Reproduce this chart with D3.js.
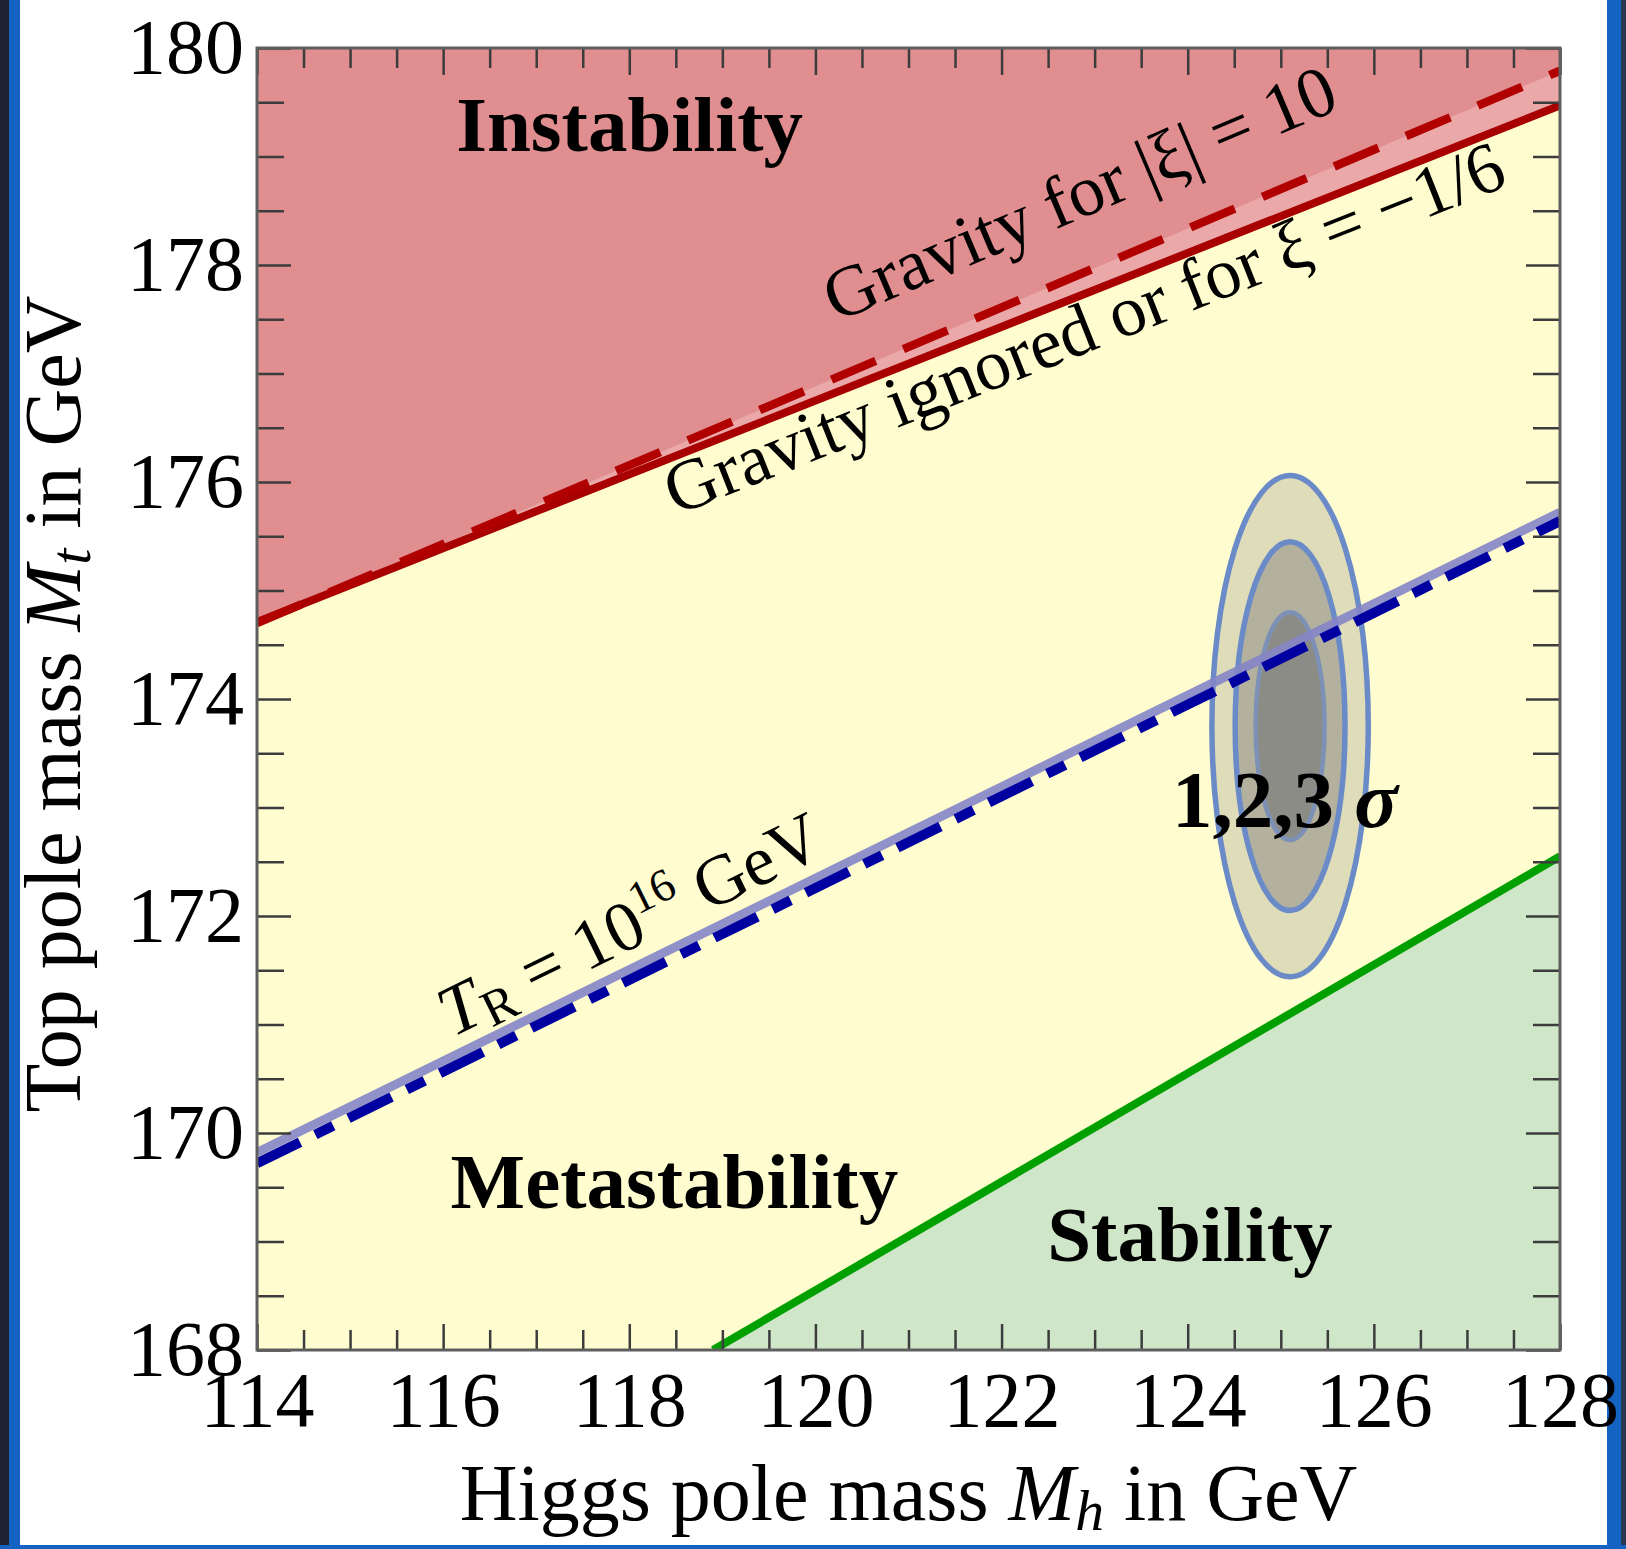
<!DOCTYPE html>
<html>
<head>
<meta charset="utf-8">
<script src="https://cdn.jsdelivr.net/npm/d3@7"></script>
<style>
html, body { margin: 0; padding: 0; background: #fff; }
svg text { font-family: "Liberation Serif", "Times New Roman", serif; }
</style>
</head>
<body>
<div id="container"></div>
<script>
"use strict";

const width = 1626;
const height = 1549;
const plot = { left: 257, right: 1560, top: 48, bottom: 1350 };
const serif = "'Liberation Serif', 'Times New Roman', serif";

// axes (GeV)
const higgsDomain = [114, 128];
const topDomain = [168, 180];
const higgsTicks = [114, 116, 118, 120, 122, 124, 126, 128];
const topTicks = [168, 170, 172, 174, 176, 178, 180];
const minorStep = 0.5;

// boundaries, as [Mh, Mt]
const gravityIgnored = [[114, 174.71], [128, 179.47]];
const gravityXi10 = [[114, 174.70], [128, 179.79]];
const reheatLight = [[114, 169.82], [128, 175.72]];
const reheatDashed = [[114, 169.72], [128, 175.64]];
const stabilityBound = [[118.9, 168], [128, 172.55]];

// measured masses and the 3,2,1 sigma ellipses (half widths in GeV)
const measured = [125.1, 173.75];
const sigmaLevels = [3, 2, 1];
const halfMh = [0.84, 0.59, 0.37];
const halfMt = [2.31, 1.70, 1.05];
const ellipseFill = ["#dedcb9", "#b3b19d", "#8c8c87"];
const ellipseStroke = ["#6a8bc7", "#6a8bc7", "#7d91b6"];

let x, y, svg;

function initialize() {
    x = d3.scaleLinear().domain(higgsDomain).range([plot.left, plot.right]);
    y = d3.scaleLinear().domain(topDomain).range([plot.bottom, plot.top]);

    svg = d3.select("#container").append("svg")
        .attr("width", width)
        .attr("height", height);

    drawFrameDecoration();
    drawRegions();
    drawAxes();
    drawLabels();
}

window.onload = initialize;

// the photographed page border: dark edge and blue marker strokes
function drawFrameDecoration() {
    svg.append("rect").attr("x", 0).attr("y", 0).attr("width", width).attr("height", height).attr("fill", "#fff");
    svg.append("rect").attr("x", 0).attr("y", 0).attr("width", 10).attr("height", height).attr("fill", "#1d2331");
    svg.append("rect").attr("x", 9).attr("y", 0).attr("width", 11).attr("height", height).attr("fill", "#1463c2");
    svg.append("rect").attr("x", 1607).attr("y", 0).attr("width", 15).attr("height", height).attr("fill", "#1463c2");
    svg.append("rect").attr("x", 1621).attr("y", 0).attr("width", 5).attr("height", height).attr("fill", "#2a3550");
    svg.append("rect").attr("x", 0).attr("y", 1545).attr("width", width).attr("height", 4).attr("fill", "#1463c2");
}

function drawRegions() {
    const line = d3.line().x(d => x(d[0])).y(d => y(d[1]));

    svg.append("clipPath").attr("id", "plotclip")
        .append("rect")
        .attr("x", plot.left).attr("y", plot.top)
        .attr("width", plot.right - plot.left).attr("height", plot.bottom - plot.top);

    const g = svg.append("g").attr("clip-path", "url(#plotclip)");

    // metastability background
    g.append("rect")
        .attr("x", plot.left).attr("y", plot.top)
        .attr("width", plot.right - plot.left).attr("height", plot.bottom - plot.top)
        .attr("fill", "#fffdd0");

    // stability region
    g.append("path")
        .attr("d", line([...stabilityBound, [higgsDomain[1], topDomain[0]]]) + "Z")
        .attr("fill", "#cfe7c8");

    // instability region
    g.append("path")
        .attr("d", line([...gravityIgnored, [higgsDomain[1], topDomain[1]], [higgsDomain[0], topDomain[1]]]) + "Z")
        .attr("fill", "#e08e8f");

    // band between the two gravity curves
    g.append("path")
        .attr("d", line([...gravityXi10, ...gravityIgnored.slice().reverse()]) + "Z")
        .attr("fill", "#eaa8a8");

    // sigma ellipses
    g.selectAll("ellipse")
        .data(sigmaLevels)
        .join("ellipse")
        .attr("cx", x(measured[0]))
        .attr("cy", y(measured[1]))
        .attr("rx", (d, i) => x(measured[0] + halfMh[i]) - x(measured[0]))
        .attr("ry", (d, i) => y(measured[1]) - y(measured[1] + halfMt[i]))
        .attr("fill", (d, i) => ellipseFill[i])
        .attr("stroke", (d, i) => ellipseStroke[i])
        .attr("stroke-width", (d, i) => i == 2 ? 4.5 : 5.5);

    // boundaries
    g.append("path").attr("d", line(gravityIgnored))
        .attr("fill", "none").attr("stroke", "#a80000").attr("stroke-width", 8);
    g.append("path").attr("d", line(gravityXi10))
        .attr("fill", "none").attr("stroke", "#b00000").attr("stroke-width", 8.5)
        .attr("stroke-dasharray", "48,30");
    g.append("path").attr("d", line(stabilityBound))
        .attr("fill", "none").attr("stroke", "#00a000").attr("stroke-width", 8);
    g.append("path").attr("d", line(reheatLight))
        .attr("fill", "none").attr("stroke", "#8585c8").attr("stroke-width", 9)
        .attr("stroke-opacity", 0.9);
    g.append("path").attr("d", line(reheatDashed))
        .attr("fill", "none").attr("stroke", "#0000a0").attr("stroke-width", 10)
        .attr("stroke-dasharray", "48,17,20,17");
}

function drawAxes() {
    const minorX = d3.range(higgsDomain[0], higgsDomain[1] + 0.01, minorStep).filter(v => !higgsTicks.includes(v));
    const minorY = d3.range(topDomain[0], topDomain[1] + 0.01, minorStep).filter(v => !topTicks.includes(v));

    const axes = [
        { ax: d3.axisBottom(x), pos: `translate(0,${plot.bottom})`, minor: minorX, major: higgsTicks, lenMinor: 20, lenMajor: 26, labels: true, pad: 21 },
        { ax: d3.axisTop(x), pos: `translate(0,${plot.top})`, minor: minorX, major: higgsTicks, lenMinor: 20, lenMajor: 27, labels: false },
        { ax: d3.axisLeft(y), pos: `translate(${plot.left},0)`, minor: minorY, major: topTicks, lenMinor: 27, lenMajor: 34, labels: true, pad: 13 },
        { ax: d3.axisRight(y), pos: `translate(${plot.right},0)`, minor: minorY, major: topTicks, lenMinor: 27, lenMajor: 34, labels: false }
    ];

    axes.forEach(a => {
        svg.append("g").attr("transform", a.pos)
            .call(a.ax.tickValues(a.minor).tickSize(-a.lenMinor).tickSizeOuter(0).tickFormat(""))
            .call(g => g.select(".domain").remove());
        const gm = svg.append("g").attr("transform", a.pos)
            .call(a.ax.tickValues(a.major).tickSize(-a.lenMajor).tickSizeOuter(0)
                .tickPadding(a.pad || 0).tickFormat(a.labels ? d3.format("d") : ""))
            .call(g => g.select(".domain").remove());
        gm.attr("font-size", 78).attr("font-family", serif);
    });

    svg.selectAll(".tick line").attr("stroke", "#3c3c3c").attr("stroke-width", 2.5);
    svg.selectAll(".tick text").attr("fill", "#000");

    svg.append("rect")
        .attr("x", plot.left).attr("y", plot.top)
        .attr("width", plot.right - plot.left).attr("height", plot.bottom - plot.top)
        .attr("fill", "none").attr("stroke", "#5e5e5e").attr("stroke-width", 3);
}

// append tspans with italic / sub / sup parts
function richText(text, parts, size) {
    let shift = 0;
    parts.forEach(p => {
        let target = 0;
        const ts = text.append("tspan").text(p.t);
        if (p.italic) ts.attr("font-style", "italic");
        if (p.sub) { ts.attr("font-size", size * 0.72); target = size * 0.12; }
        if (p.sup) { ts.attr("font-size", size * 0.65); target = -size * 0.4; }
        if (target != shift) ts.attr("dy", target - shift);
        shift = target;
    });
}

function angleOf(seg) {
    const a = seg[0], b = seg[seg.length - 1];
    return Math.atan2(y(b[1]) - y(a[1]), x(b[0]) - x(a[0])) * 180 / Math.PI;
}

function drawLabels() {
    // region names
    const regions = [
        { t: "Instability", at: [116.14, 179.05] },
        { t: "Metastability", at: [116.08, 169.31] },
        { t: "Stability", at: [122.49, 168.82] }
    ];
    svg.selectAll(".region").data(regions).join("text")
        .attr("class", "region")
        .attr("x", d => x(d.at[0]))
        .attr("y", d => y(d.at[1]))
        .attr("font-size", 79)
        .attr("font-weight", "bold")
        .text(d => d.t);

    const sig = svg.append("text")
        .attr("x", x(123.83)).attr("y", y(172.82))
        .attr("font-size", 81).attr("font-weight", "bold");
    richText(sig, [{ t: "1,2,3 " }, { t: "σ", italic: true }], 81);

    // labels along the boundaries
    const along = [
        { parts: [{ t: "Gravity ignored or for ξ = −1/6" }], at: [118.50, 175.69], seg: gravityIgnored, size: 72 },
        { parts: [{ t: "Gravity for |ξ| = 10" }], at: [120.22, 177.47], seg: gravityXi10, size: 72 },
        { parts: [{ t: "T", italic: true }, { t: "R", sub: true }, { t: " = 10" }, { t: "16", sup: true }, { t: " GeV" }], at: [116.10, 170.88], seg: reheatLight, size: 71 }
    ];
    along.forEach(l => {
        const t = svg.append("text")
            .attr("font-size", l.size)
            .attr("transform", `translate(${x(l.at[0])},${y(l.at[1])}) rotate(${angleOf(l.seg)})`);
        richText(t, l.parts, l.size);
    });

    // axis titles
    const xt = svg.append("text")
        .attr("x", (plot.left + plot.right) / 2).attr("y", 1520)
        .attr("text-anchor", "middle").attr("font-size", 80);
    richText(xt, [{ t: "Higgs pole mass " }, { t: "M", italic: true }, { t: "h", italic: true, sub: true }, { t: " in GeV" }], 80);

    const yt = svg.append("text")
        .attr("transform", `translate(80,${(plot.top + plot.bottom) / 2 + 5}) rotate(-90)`)
        .attr("text-anchor", "middle").attr("font-size", 80);
    richText(yt, [{ t: "Top pole mass " }, { t: "M", italic: true }, { t: "t", italic: true, sub: true }, { t: " in GeV" }], 80);
}
</script>
</body>
</html>
